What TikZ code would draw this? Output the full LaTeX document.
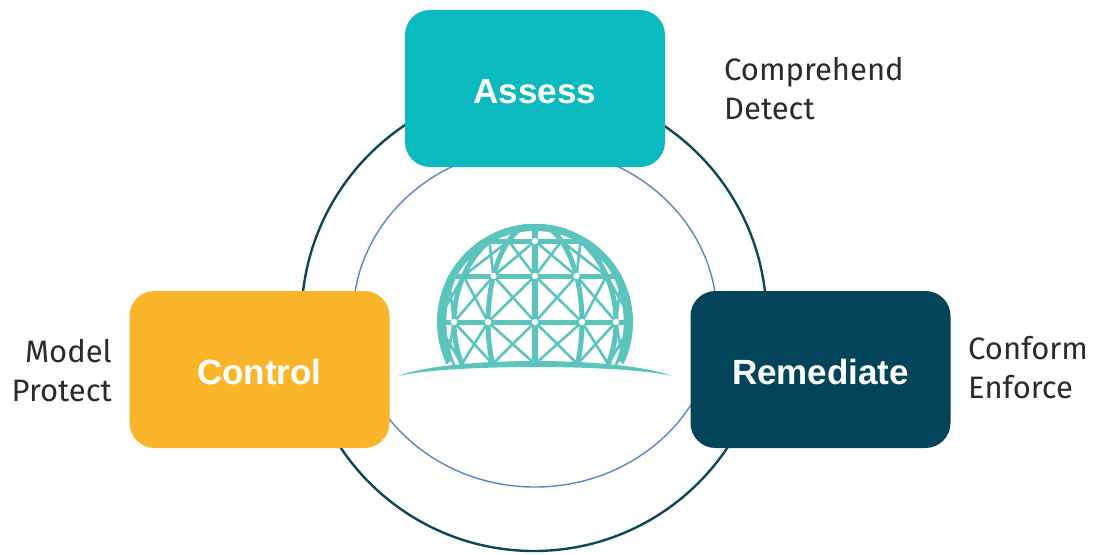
\documentclass[tikz,border=0pt]{standalone}
\usepackage{fontspec}
\setmainfont{Fira Sans}
\newfontfamily\boxfont{Liberation Sans}
\usetikzlibrary{calc}
\definecolor{assesscol}{HTML}{0ABABF}
\definecolor{controlcol}{HTML}{FBB52A}
\definecolor{remedcol}{HTML}{02455A}
\definecolor{ringcol}{HTML}{0D4656}
\definecolor{innercol}{HTML}{5A86C8}
\definecolor{domecol}{HTML}{5BC4BC}
\definecolor{sidecol}{HTML}{2B2B2B}

\begin{document}
\begin{tikzpicture} [x=1pt, y=1pt,
  stage/.style={rounded corners=25pt, minimum width=260pt, minimum height=157pt, text height=30pt, text depth=0pt, text=white, font=\boxfont\bfseries\fontsize{35}{40}\selectfont},
  side/.style={text=sidecol, font=\fontsize{31}{39}\selectfont, inner sep=0pt},
  strut/.style={domecol, line width=2.6pt},
  beam/.style={domecol, line width=5pt}]
\useasboundingbox (0,0) rectangle (1094,-554);
\draw[ringcol, line width=2.4pt] (534,-318.5) circle (232.5pt);
\draw[innercol, line width=1.4pt] (535,-317.5) ellipse [x radius=182pt, y radius=169.5pt];
\begin{scope}[shift={(535,-322)}]
 \begin{scope}
  \clip (-100,-42) rectangle (100,100);
  \clip (0,0) circle (98pt);
  \foreach \y in {0,46,81} {
   \draw[beam] (-100,\y) -- (100,\y);
  }
  \foreach \ya/\yb in {-42/0,0/46,46/81} {
   \foreach \ma/\mb in {-98/-81,-81/-47,-47/0,0/47,47/81,81/98} {
    \draw[strut] ({\ma*sqrt(1-(\ya/98)^2)},\ya) -- ({\mb*sqrt(1-(\yb/98)^2)},\yb)
                 ({\mb*sqrt(1-(\ya/98)^2)},\ya) -- ({\ma*sqrt(1-(\yb/98)^2)},\yb);
   }
  }
  \foreach \m in {-81,-47,47,81} {
   \draw[beam] plot[domain=-26:90, samples=40] ({\m*cos(\x)},{98*sin(\x)});
  }
  \foreach \m in {-90,90} {
   \draw[strut] plot[domain=-26:90, samples=40] ({\m*cos(\x)},{98*sin(\x)});
  }
  \draw[beam, line width=5.5pt] (0,-42) -- (0,98);
 \end{scope}
 \draw[strut, line width=7pt] (-25:94.5pt) arc[start angle=-25, end angle=205, radius=94.5pt];
 \foreach \p in {(0,81),(-41.5,46),(0,46),(41.5,46),(-81,0),(-47,0),(0,0),(47,0),(81,0)} {
  \fill[white] \p circle (3.2pt);
 }
\end{scope}
\fill[domecol] (398,-376) .. controls (450,-356) and (620,-356) .. (672,-376) .. controls (620,-364) and (450,-364) .. cycle;
\node[stage, fill=assesscol] (assess) at (535,-88.5) {Assess};
\node[stage, fill=controlcol] (control) at (259.5,-369.5) {Control};
\node[stage, fill=remedcol] (remediate) at (820.5,-369.5) {Remediate};
\node[side, align=left, anchor=west] (assessnote) at (724,-89) {Comprehend\\Detect};
\node[side, align=right, anchor=east] (controlnote) at (112,-371) {Model\\Protect};
\node[side, align=left, anchor=west] (remednote) at (968,-368) {Conform\\Enforce};
\end{tikzpicture}
\end{document}
